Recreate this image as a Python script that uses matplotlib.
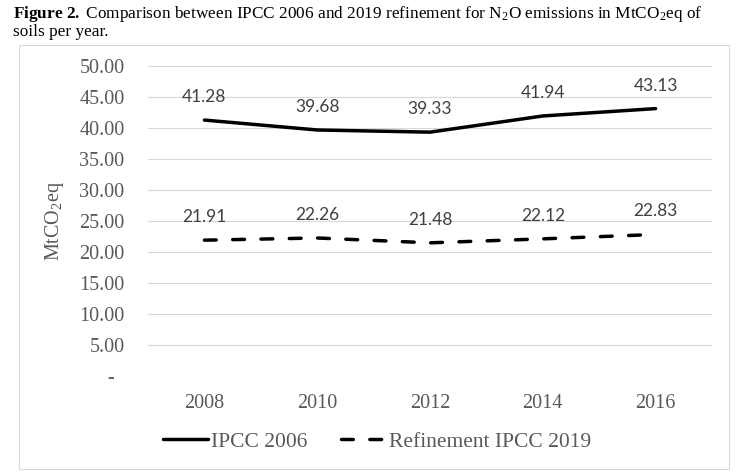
import matplotlib
matplotlib.use('Agg')
import matplotlib.pyplot as plt
from matplotlib.patches import Rectangle

# data
years = ['2008', '2010', '2012', '2014', '2016']
ipcc_2006 = [41.28, 39.68, 39.33, 41.94, 43.13]
refinement_2019 = [21.91, 22.26, 21.48, 22.12, 22.83]
y_ticks = [0, 5, 10, 15, 20, 25, 30, 35, 40, 45, 50]

plt.rcParams['font.family'] = ['Liberation Serif', 'DejaVu Serif']
plt.rcParams['mathtext.fontset'] = 'custom'
plt.rcParams['mathtext.rm'] = 'Liberation Serif'
plt.rcParams['mathtext.it'] = 'Liberation Serif:italic'
plt.rcParams['mathtext.bf'] = 'Liberation Serif:bold'

W, H = 736, 472
fig = plt.figure(figsize=(W / 100, H / 100), dpi=100)

def fx(px):
    return px / W

def fy(py):
    return 1 - py / H

# chart frame
fig.patches.append(Rectangle((fx(19), fy(469)), fx(729) - fx(19), fy(45) - fy(469),
                             transform=fig.transFigure, fill=False,
                             edgecolor='#d9d9d9', linewidth=0.8))

ax = fig.add_axes([fx(148), fy(376), fx(712) - fx(148), fy(66) - fy(376)])
x = list(range(len(years)))

ax.plot(x, ipcc_2006, color='black', linewidth=2.5, solid_capstyle='round',
        solid_joinstyle='round', label='IPCC 2006')
ax.plot(x, refinement_2019, color='black', linewidth=2.5, dashes=(3.4, 4.75),
        dash_capstyle='round', label='Refinement IPCC 2019')

for xi, v in zip(x, ipcc_2006):
    ax.annotate('{:.2f}'.format(v), (xi, v), xytext=(0, 13), textcoords='offset points',
                ha='center', va='baseline', fontsize=12.5, family='Lato', color='#404040')
for xi, v in zip(x, refinement_2019):
    ax.annotate('{:.2f}'.format(v), (xi, v), xytext=(0, 13), textcoords='offset points',
                ha='center', va='baseline', fontsize=12.5, family='Lato', color='#404040')

ax.set_xlim(-0.5, len(years) - 0.5)
ax.set_ylim(0, 50)
ax.set_xticks(x)
ax.set_xticklabels(years)
ax.set_yticks(y_ticks)
ax.set_yticklabels(['-  ' if t == 0 else '{:.2f}'.format(t) for t in y_ticks])
ax.tick_params(axis='both', length=0, labelsize=14.5, labelcolor='#595959')
ax.tick_params(axis='x', pad=13)
ax.tick_params(axis='y', pad=17)
ax.grid(axis='y', color='#d9d9d9', linewidth=0.8)
ax.set_axisbelow(True)
for s in ax.spines.values():
    s.set_visible(False)

fig.text(fx(55), fy(221), 'MtCO$_2$eq', rotation=90, ha='center', va='center',
         fontsize=14.5, color='#595959')

fig.text(fx(13), fy(17.5), r'$\mathbf{Figure\ 2.\ }$Comparison between IPCC 2006 and 2019 refinement '
         r'for N$_2$O emissions in MtCO$_2$eq of', ha='left', va='baseline', fontsize=12.4)
fig.text(fx(13), fy(35.5), 'soils per year.', ha='left', va='baseline', fontsize=12.4)

fig.legend(loc='center', bbox_to_anchor=(fx(377), fy(442)), ncol=2, frameon=False,
           fontsize=15.5, handlelength=2.1, handletextpad=0.1, columnspacing=1.6,
           labelcolor='#595959')

fig.savefig('out.png', dpi=100)
